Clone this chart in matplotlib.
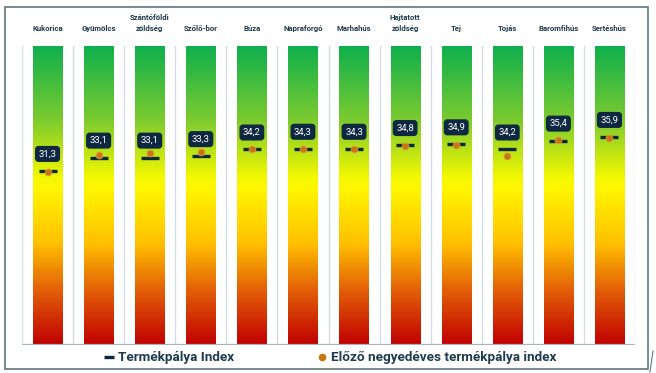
import numpy as np
import matplotlib
matplotlib.use("Agg")
import matplotlib.pyplot as plt
from matplotlib.colors import LinearSegmentedColormap
from matplotlib.lines import Line2D
from matplotlib.patches import Rectangle
from matplotlib import transforms

# Data
categories = ["Kukorica", "Gyümölcs", "Szántóföldi\nzöldség", "Szőlő-bor", "Búza",
              "Napraforgó", "Marhahús", "Hajtatott\nzöldség", "Tej", "Tojás",
              "Baromfihús", "Sertéshús"]
index_now = [31.3, 33.1, 33.1, 33.3, 34.2, 34.3, 34.3, 34.8, 34.9, 34.2, 35.4, 35.9]
index_prev = [31.1, 33.5, 33.7, 33.9, 34.2, 34.3, 34.3, 34.7, 34.8, 33.3, 35.5, 35.8]

navy = "#0E2841"
orange = "#C8780F"
text_col = "#1F3B4D"

plt.rcParams["font.family"] = ["Roboto", "DejaVu Sans"]

fig = plt.figure(figsize=(6.56, 3.73), dpi=100)
ax = fig.add_axes([22 / 656, 28 / 373, 613 / 656, 299 / 373])

ymin, ymax = 7.75, 48.2
n = len(categories)
x = np.arange(n)
bar_w = 0.57

# red -> orange -> yellow -> green gradient, bottom to top
cmap = LinearSegmentedColormap.from_list(
    "traffic",
    [(0.0, "#C00000"), (0.18, "#E25E08"), (0.34, "#FFC000"),
     (0.52, "#FFF500"), (0.56, "#F4F800"), (0.75, "#7DCB2E"), (1.0, "#0FB04E")])
grad = np.linspace(0, 1, 256).reshape(-1, 1)

for i in x:
    ax.imshow(grad, extent=(i - bar_w / 2, i + bar_w / 2, ymin, ymax),
              origin="lower", aspect="auto", cmap=cmap, zorder=1)

# column separators
for b in np.arange(n + 1) - 0.5:
    ax.plot([b, b], [ymin, ymax], color="#D3DCE1", lw=1, zorder=0.5)
ax.axhline(ymin, color="#A8B3BA", lw=1.6, zorder=2)

ax.set_xlim(-0.5, n - 0.5)
ax.set_ylim(ymin, ymax)
ax.axis("off")

# current index marks and previous quarter dots
ax.plot(x, index_now, ls="none", marker="_", ms=13.5, mew=2.4, color=navy, zorder=3)
ax.plot(x, index_prev, ls="none", marker="o", ms=5, color=orange,
        mec="#E0A050", mew=0.5, zorder=4)

for xi, v in zip(x, index_now):
    ax.text(xi, v + 2.3, f"{v:.1f}".replace(".", ","), ha="center", va="center",
            color="white", fontsize=6.8, zorder=5,
            bbox=dict(boxstyle="round,pad=0.3,rounding_size=0.3", fc=navy, ec=navy))

# category titles above the columns
trans = transforms.blended_transform_factory(ax.transData, ax.transAxes)
for xi, c in zip(x, categories):
    ax.text(xi, 1.048, c, transform=trans, ha="center", va="bottom",
            fontsize=5.6, fontweight="bold", color=text_col, linespacing=1.55)

# legend
handles = [Line2D([], [], ls="none", marker="_", ms=7, mew=2.4, color=navy),
           Line2D([], [], ls="none", marker="o", ms=4.5, color=orange)]
fig.legend(handles, ["Termékpálya Index", "Előző negyedéves termékpálya index"],
           loc="center", bbox_to_anchor=(0.504, 15 / 373), ncol=2, frameon=False,
           handlelength=0.7, handletextpad=0.3, columnspacing=6.2,
           prop=dict(size=9.7, weight="bold"), labelcolor=text_col)

# outer frame
fig.patches.append(Rectangle((5 / 656, 4 / 373), 643 / 656, 362 / 373,
                             transform=fig.transFigure, fill=False,
                             ec="#60757F", lw=1.2))
fig.lines.append(Line2D([650 / 656, 653 / 656], [1 / 373, 22 / 373],
                        transform=fig.transFigure, color="#60757F", lw=0.8))

fig.savefig("out.png", dpi=100)
